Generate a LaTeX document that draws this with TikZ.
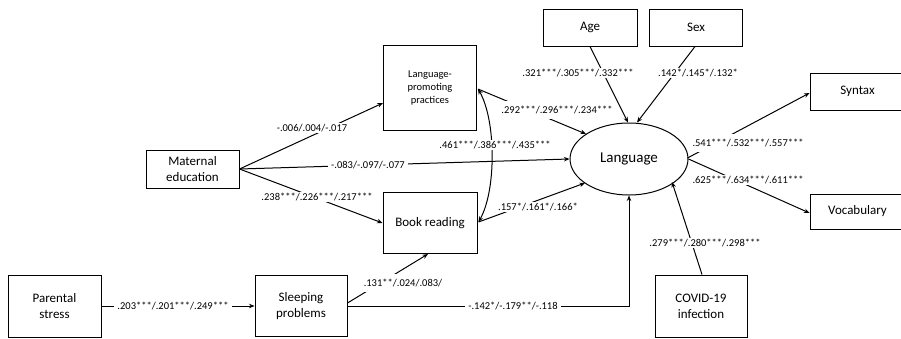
\documentclass[tikz,border=0pt]{standalone}
\usepackage{fontspec}
\setmainfont{Carlito}
\usetikzlibrary{arrows.meta,shapes.geometric,calc}
\begin{document}
\begin{tikzpicture}[x=1pt,y=-1pt,
  box/.style={draw, line width=1pt, rectangle, align=center, inner sep=0pt, font=\fontsize{13}{16}\selectfont},
  lbl/.style={fill=white, inner xsep=3pt, inner ysep=1pt, font=\fontsize{10.5}{12}\selectfont},
  tall/.style={inner ysep=5pt},
  arr/.style={line width=1pt, -{Stealth[length=5.5pt,width=4.5pt]}},
  dbl/.style={line width=1pt, {Stealth[length=5.5pt,width=4.5pt]}-{Stealth[length=5.5pt,width=4.5pt]}}
  ]
\useasboundingbox (0,0) rectangle (901,338);
\clip (0,0) rectangle (901,338);
\fill[white] (0,0) rectangle (901,338);

% nodes
\node[box, minimum width=93pt, minimum height=38pt] (me) at (192.5,169) {Maternal\\education};
\node[box, minimum width=93pt, minimum height=85pt, font=\fontsize{10.5}{13}\selectfont] (lpp) at (430,88) {Language-\\promoting\\practices};
\node[box, minimum width=94pt, minimum height=61pt] (br) at (430,223) {Book reading};
\node[box, minimum width=93pt, minimum height=62pt] (ps) at (54.5,306) {Parental\\stress};
\node[box, minimum width=92pt, minimum height=61pt] (sp) at (301,306) {Sleeping\\problems};
\node[box, minimum width=94pt, minimum height=37pt] (age) at (590,27.5) {Age};
\node[box, minimum width=93pt, minimum height=37pt] (sex) at (696,27.5) {Sex};
\node[draw, ellipse, line width=1pt, minimum width=118pt, minimum height=72pt, inner sep=0pt, font=\fontsize{15}{18}\selectfont] (lang) at (629,159) {Language};
\node[box, minimum width=95pt, minimum height=37pt] (syn) at (857.5,91.5) {Syntax};
\node[box, minimum width=95pt, minimum height=35pt] (voc) at (857.5,211.5) {Vocabulary};
\node[box, minimum width=92pt, minimum height=62pt] (cov) at (701,306) {COVID-19\\infection};

% connectors
\draw[arr] (me.east) -- ($(lpp.west)+(0,15)$);
\draw[arr] (me.east) -- (lang.west);
\draw[arr] (me.east) -- (br.west);
\draw[arr] (ps.east) -- (sp.west);
\draw[arr] ($(sp.east)+(0,-3)$) -- ($(br.south)+(-2,0)$);
\draw[arr] (sp.east) -| (lang.south);
\draw[arr] ($(cov.north)+(1,0)$) -- ($(lang.center)+(43,23)$);
\draw[arr] (age.south) -- ($(lang.north)+(-1,0)$);
\draw[arr] ($(sex.south)+(-1,0)$) -- ($(lang.north)+(8,0)$);
\draw[arr] ($(lang.east)+(-1,-1)$) -- ($(syn.west)+(0,1.5)$);
\draw[arr] (lang.east) -- ($(voc.west)+(0,1.5)$);
\draw[arr] ($(lpp.east)+(1,1)$) -- ($(lang.center)+(-43,-25)$);
\draw[arr] ($(br.east)+(1,-1)$) -- ($(lang.center)+(-44,24)$);
\draw[dbl] ($(lpp.east)+(1,1)$) .. controls ($(lpp.east)+(19,32)$) and ($(br.east)+(19,-33)$) .. ($(br.east)+(1,-1)$);

% labels
\node[lbl] (l1) at (312,128) {-.006/.004/-.017};
\node[lbl] (l2) at (368,165) {-.083/-.097/-.077};
\node[lbl] (l3) at (317,197) {.238***/.226***/.217***};
\node[lbl] (l4) at (173,306) {.203***/.201***/.249***};
\node[lbl, tall] (l5) at (403,283) {.131**/.024/.083/};
\node[lbl] (l6) at (513,306) {-.142*/-.179**/-.118};
\node[lbl] (l7) at (705,243) {.279***/.280***/.298***};
\node[lbl] (l8) at (578,73) {.321***/.305***/.332***};
\node[lbl] (l9) at (698,73) {.142*/.145*/.132*};
\node[lbl, tall] (l10) at (748,143) {.541***/.532***/.557***};
\node[lbl] (l11) at (748,180) {.625***/.634***/.611***};
\node[lbl, tall] (l12) at (557,110) {.292***/.296***/.234***};
\node[lbl] (l13) at (538,207) {.157*/.161*/.166*};
\node[lbl] (l14) at (495,145) {.461***/.386***/.435***};
\end{tikzpicture}
\end{document}
